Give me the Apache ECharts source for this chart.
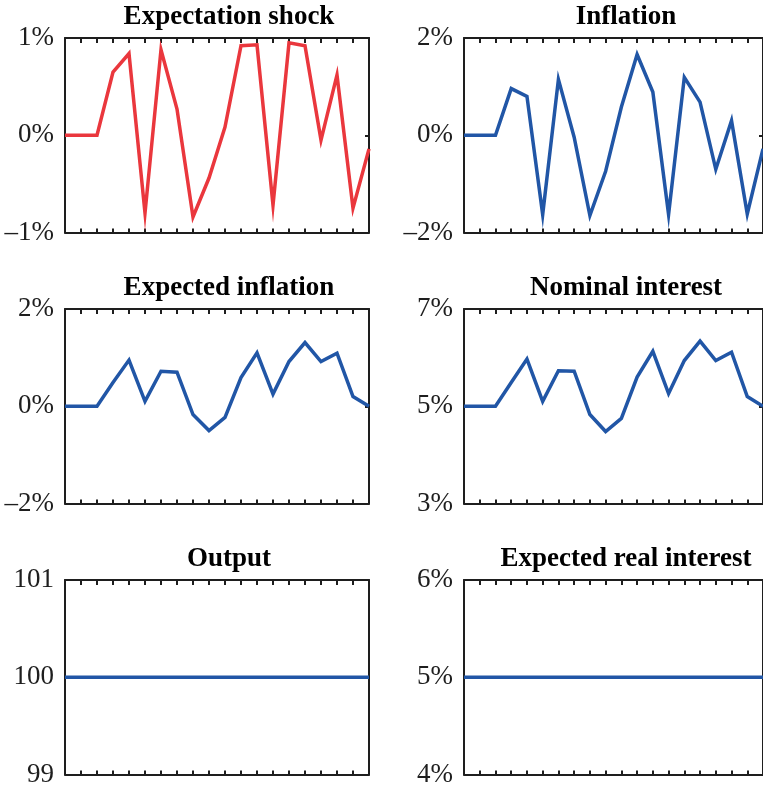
<!DOCTYPE html>
<html><head><meta charset="utf-8">
<script src="https://cdn.jsdelivr.net/npm/echarts@6/dist/echarts.min.js"></script>
<style>html,body{margin:0;padding:0;background:#fff}#c{width:763px;height:788px}</style>
</head><body><div id="c"></div>
<script>
// ---- data ----
const periods = [1,2,3,4,5,6,7,8,9,10,11,12,13,14,15,16,17,18,19,20];
const titles = ['Expectation shock','Inflation','Expected inflation','Nominal interest','Output','Expected real interest'];
const expectationShock = [0,0,0,0.65,0.84,-0.80,0.88,0.27,-0.84,-0.44,0.085,0.92,0.93,-0.72,0.95,0.92,-0.05,0.62,-0.75,-0.14];
const inflation = [0,0,0,0.96,0.80,-1.63,1.15,-0.04,-1.65,-0.74,0.58,1.66,0.89,-1.63,1.19,0.68,-0.70,0.30,-1.62,-0.28];
const expectedInflation = [0,0,0,0.49,0.95,0.10,0.72,0.70,-0.17,-0.50,-0.23,0.59,1.10,0.25,0.92,1.31,0.92,1.09,0.20,0.0];
const nominalInterest = [5,5,5,5.49,5.97,5.10,5.73,5.72,4.83,4.48,4.75,5.60,6.13,5.26,5.94,6.34,5.94,6.11,5.20,5.0];
const output = [100,100,100,100,100,100,100,100,100,100,100,100,100,100,100,100,100,100,100,100];
const expectedRealInterest = [5,5,5,5,5,5,5,5,5,5,5,5,5,5,5,5,5,5,5,5];
// tick values and labels
const shockTicks = [-1,0,1];           const shockLabels = ['\u20131%','0%','1%'];
const inflTicks = [-2,0,2];            const inflLabels = ['\u20132%','0%','2%'];
const nomTicks = [3,5,7];              const nomLabels = ['3%','5%','7%'];
const outTicks = [99,100,101];         const outLabels = ['99','100','101'];
const realTicks = [4,5,6];             const realLabels = ['4%','5%','6%'];

const RED = '#ea373d', BLUE = '#2156a6', INK = '#1e1e1e';
const FONT = '"Liberation Serif", "DejaVu Serif", serif';

const panels = [
  {t:titles[0], d:expectationShock, ticks:shockTicks, labels:shockLabels, c:RED},
  {t:titles[1], d:inflation, ticks:inflTicks, labels:inflLabels, c:BLUE},
  {t:titles[2], d:expectedInflation, ticks:inflTicks, labels:inflLabels, c:BLUE},
  {t:titles[3], d:nominalInterest, ticks:nomTicks, labels:nomLabels, c:BLUE},
  {t:titles[4], d:output, ticks:outTicks, labels:outLabels, c:BLUE},
  {t:titles[5], d:expectedRealInterest, ticks:realTicks, labels:realLabels, c:BLUE}
];

const colLeft = [65, 464], plotW = 304, plotH = 194.5;
const rowTop = [38, 309, 580];
const titleTop = [-1, 270, 541];
const titleX = [224, 621];

const option = {animation:false, title:[], grid:[], xAxis:[], yAxis:[], series:[]};
const mkLine = () => ({show:true, onZero:false, lineStyle:{color:INK, width:2}});
const mkTickStyle = () => ({color:INK, width:2});

panels.forEach((p,i)=>{
  const col = i % 2, row = Math.floor(i/2);
  option.title.push({text:p.t, left:titleX[col], top:titleTop[row], textAlign:'center',
    textStyle:{fontFamily:FONT, fontWeight:'bold', fontSize:27, color:'#000'}});
  option.grid.push({left:colLeft[col], top:rowTop[row], width:plotW, height:plotH, containLabel:false});
  option.xAxis.push({type:'category', gridIndex:i, data:periods, boundaryGap:false, position:'bottom',
    axisLine:mkLine(), axisTick:{show:true, inside:true, length:4, interval:0, lineStyle:mkTickStyle()},
    axisLabel:{show:false}, splitLine:{show:false}});
  option.xAxis.push({type:'category', gridIndex:i, data:periods, boundaryGap:false, position:'top',
    axisLine:mkLine(), axisTick:{show:true, inside:true, length:5, interval:0, lineStyle:mkTickStyle()},
    axisLabel:{show:false}, splitLine:{show:false}});
  const mn = p.ticks[0], mx = p.ticks[2], iv = p.ticks[1]-p.ticks[0];
  option.yAxis.push({type:'value', gridIndex:i, min:mn, max:mx, interval:iv, position:'left',
    axisLine:mkLine(), axisTick:{show:true, inside:true, length:4, lineStyle:mkTickStyle()}, splitLine:{show:false},
    axisLabel:{show:true, margin:11, fontFamily:FONT, fontSize:27, color:INK,
      formatter:(v)=>{const k=p.ticks.findIndex(t=>Math.abs(t-v)<1e-9); return k>=0?p.labels[k]:'';}}});
  option.yAxis.push({type:'value', gridIndex:i, min:mn, max:mx, interval:iv, position:'right',
    axisLine:mkLine(), axisTick:{show:true, inside:true, length:4, lineStyle:mkTickStyle()},
    splitLine:{show:false}, axisLabel:{show:false}});
  option.series.push({type:'line', xAxisIndex:2*i, yAxisIndex:2*i, data:p.d, symbol:'none',
    clip:true, z:3, lineStyle:{color:p.c, width:3.5, join:'miter', miterLimit:20, cap:'butt'}});
});

const chart = echarts.init(document.getElementById('c'), null, {renderer:'canvas'});
chart.setOption(option);
</script></body></html>
